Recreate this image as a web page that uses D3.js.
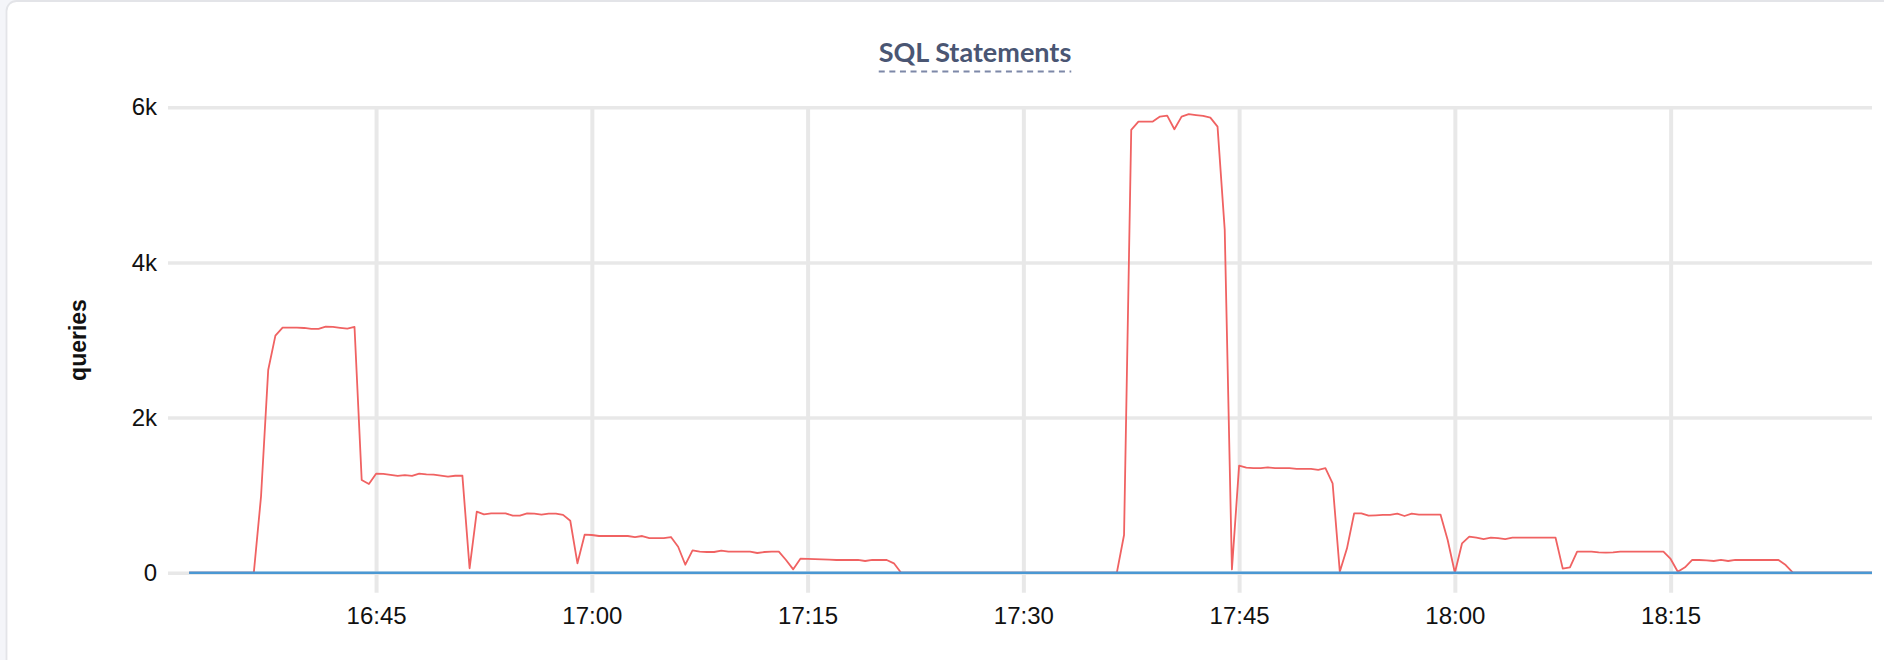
<!DOCTYPE html>
<html>
<head>
<meta charset="utf-8">
<script src="https://cdn.jsdelivr.net/npm/d3@7"></script>
<style>
  html, body { margin: 0; padding: 0; background: #f4f5f9; }
  svg { display: block; }
</style>
</head>
<body>
<svg id="chart" width="1884" height="660"></svg>
<script>
// ---------------- DATA ----------------
const chartTitle = "SQL Statements";
const yAxisLabel = "queries";
const sampleStart = "16:32:00";      // first sample time
const sampleStepSeconds = 30;        // sampling interval
const yTickValues = [0, 2000, 4000, 6000];
const yTickLabels = ["0", "2k", "4k", "6k"];
const xTickLabels = ["16:45", "17:00", "17:15", "17:30", "17:45", "18:00", "18:15"];

// series 1 (red) – queries per sample
const seriesRed = [
  0,0,0,0,0,0,0,0,0,0,
  980,2614,3056,3160,3160,3160,3155,3143,3143,3172,
  3168,3157,3146,3168,1195,1144,1277,1273,1262,1247,
  1258,1247,1277,1268,1265,1252,1238,1250,1251,57,
  787,753,766,766,766,735,735,766,762,749,
  762,762,745,670,121,490,486,473,473,473,
  473,473,460,473,447,447,447,460,335,103,
  289,271,267,267,284,271,271,271,271,254,
  267,271,271,164,43,181,178,175,172,168,
  164,164,164,164,151,164,164,164,121,0,
  0,0,0,0,0,0,0,0,0,0,
  0,0,0,0,0,0,0,0,0,0,
  0,0,0,0,0,0,0,0,0,0,
  486,5709,5816,5816,5816,5880,5893,5717,5880,5911,
  5900,5890,5867,5751,4419,43,1380,1354,1348,1348,
  1357,1348,1348,1348,1338,1338,1338,1327,1348,1153,
  13,314,766,766,735,740,745,745,761,731,
  761,749,749,749,749,422,0,379,464,451,
  434,451,447,434,451,451,451,451,451,451,
  451,52,69,271,271,271,262,258,262,271,
  271,271,271,271,271,271,177,13,69,164,
  164,160,151,164,151,164,164,164,164,164,
  164,164,99,0,0,0,0,0,0,0,
  0,0,0,0,0
];

// series 2 (blue) – flat at zero for the whole window
const seriesBlue = [
  0,0,0,0,0,0,0,0,0,0, 0,0,0,0,0,0,0,0,0,0,
  0,0,0,0,0,0,0,0,0,0, 0,0,0,0,0,0,0,0,0,0,
  0,0,0,0,0,0,0,0,0,0, 0,0,0,0,0,0,0,0,0,0,
  0,0,0,0,0,0,0,0,0,0, 0,0,0,0,0,0,0,0,0,0,
  0,0,0,0,0,0,0,0,0,0, 0,0,0,0,0,0,0,0,0,0,
  0,0,0,0,0,0,0,0,0,0, 0,0,0,0,0,0,0,0,0,0,
  0,0,0,0,0,0,0,0,0,0, 0,0,0,0,0,0,0,0,0,0,
  0,0,0,0,0,0,0,0,0,0, 0,0,0,0,0,0,0,0,0,0,
  0,0,0,0,0,0,0,0,0,0, 0,0,0,0,0,0,0,0,0,0,
  0,0,0,0,0,0,0,0,0,0, 0,0,0,0,0,0,0,0,0,0,
  0,0,0,0,0,0,0,0,0,0, 0,0,0,0,0,0,0,0,0,0,
  0,0,0,0,0,0,0,0,0,0, 0,0,0,0,0
];

// ---------------- LAYOUT ----------------
const W = 1884, H = 660;
const plotLeft = 168, plotRight = 1872, plotTop = 107.3, plotBottom = 572.7;
const day = "2024-01-01T";
const parse = d3.timeParse("%Y-%m-%dT%H:%M:%S");
const t0 = parse(day + sampleStart);
const xDomain = [parse(day + "16:30:32"), parse(day + "18:29:00")];

const svg = d3.select("#chart");

// card
svg.append("rect")
  .attr("x", 6.5).attr("y", 1).attr("width", W + 20).attr("height", H + 20)
  .attr("rx", 10).attr("fill", "#ffffff")
  .attr("stroke", "#e3e4e8").attr("stroke-width", 1.8);

const x = d3.scaleTime().domain(xDomain).range([plotLeft, plotRight]);
const y = d3.scaleLinear().domain([0, 6000]).range([plotBottom, plotTop]);

// y grid + labels
const yAxis = d3.axisLeft(y)
  .tickValues(yTickValues)
  .tickSize(-(plotRight - plotLeft))
  .tickPadding(11)
  .tickFormat((d, i) => yTickLabels[i]);
const gy = svg.append("g").attr("transform", `translate(${plotLeft},0)`).call(yAxis);
gy.select(".domain").remove();
gy.selectAll(".tick line").attr("stroke", "#e8e8e8").attr("stroke-width", 3.6);
gy.selectAll(".tick text")
  .attr("font-family", "'Liberation Sans', Arial, sans-serif")
  .attr("font-size", 24).attr("fill", "#111");

// x grid + labels
const xTicks = xTickLabels.map(s => parse(day + s + ":00"));
const xAxis = d3.axisBottom(x)
  .tickValues(xTicks)
  .tickSize(-(plotBottom - plotTop) - 20)
  .tickPadding(14)
  .tickFormat(d3.timeFormat("%H:%M"));
const gx = svg.append("g").attr("transform", `translate(0,${plotBottom + 20})`).call(xAxis);
gx.select(".domain").remove();
gx.selectAll(".tick line").attr("stroke", "#e8e8e8").attr("stroke-width", 4);
gx.selectAll(".tick text")
  .attr("font-family", "'Liberation Sans', Arial, sans-serif")
  .attr("font-size", 24).attr("fill", "#111");

// series
const timeAt = i => new Date(t0.getTime() + i * sampleStepSeconds * 1000);
const line = d3.line().x((d, i) => x(timeAt(i))).y(d => y(d));

svg.append("path").datum(seriesRed)
  .attr("d", line).attr("fill", "none")
  .attr("stroke", "#f06262").attr("stroke-width", 1.8)
  .attr("stroke-linejoin", "round");

svg.append("path").datum(seriesBlue)
  .attr("d", line).attr("fill", "none")
  .attr("stroke", "#4a98d3").attr("stroke-width", 2.6);

// y axis label
svg.append("text")
  .attr("transform", `translate(78,${(plotTop + plotBottom) / 2}) rotate(-90)`)
  .attr("text-anchor", "middle").attr("dominant-baseline", "central")
  .attr("font-family", "'Liberation Sans', Arial, sans-serif")
  .attr("font-weight", "bold").attr("font-size", 23).attr("fill", "#111")
  .text(yAxisLabel);

// title
const title = svg.append("text")
  .attr("x", 975).attr("y", 62)
  .attr("text-anchor", "middle")
  .attr("font-family", "Lato, 'Open Sans', sans-serif")
  .attr("font-weight", "bold").attr("font-size", 27).attr("fill", "#4a5673")
  .text(chartTitle);
const tw = title.node().getComputedTextLength();
svg.append("line")
  .attr("x1", 975 - tw / 2).attr("x2", 975 + tw / 2)
  .attr("y1", 71.5).attr("y2", 71.5)
  .attr("stroke", "#7d88a8").attr("stroke-width", 2)
  .attr("stroke-dasharray", "6,4.6");
</script>
</body>
</html>
